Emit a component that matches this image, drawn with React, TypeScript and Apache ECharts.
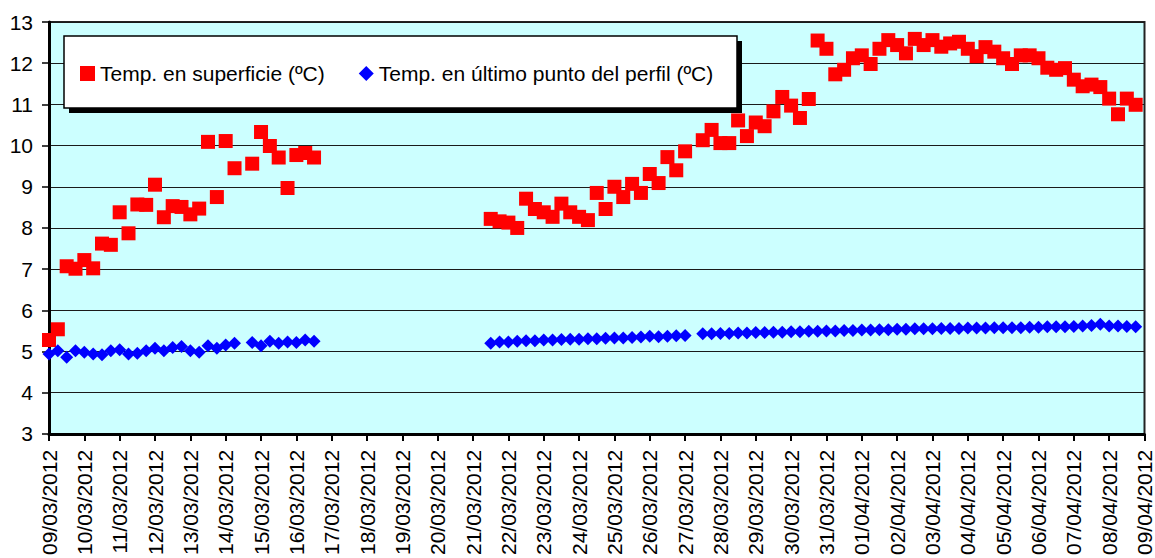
import React, { useEffect, useRef } from 'react';
import * as echarts from 'echarts';

// One tick label per day on the x axis
const dateLabels = [
  '09/03/2012', '10/03/2012', '11/03/2012', '12/03/2012', '13/03/2012', '14/03/2012',
  '15/03/2012', '16/03/2012', '17/03/2012', '18/03/2012', '19/03/2012', '20/03/2012',
  '21/03/2012', '22/03/2012', '23/03/2012', '24/03/2012', '25/03/2012', '26/03/2012',
  '27/03/2012', '28/03/2012', '29/03/2012', '30/03/2012', '31/03/2012', '01/04/2012',
  '02/04/2012', '03/04/2012', '04/04/2012', '05/04/2012', '06/04/2012', '07/04/2012',
  '08/04/2012', '09/04/2012',
];

// readings every 6 hours (4 per day), starting 09/03/2012 00:00
const READINGS_PER_DAY = 4;

const seriesNames = ['Temp. en superficie (ºC)', 'Temp. en último punto del perfil (ºC)'];

// Surface temperature (ºC); null = no reading
const surfaceTemp: (number | null)[] = [
  5.28, 5.54, 7.07, 7.01, 7.22, 7.02, 7.62, 7.59, 8.38, 7.87,
  8.57, 8.56, 9.05, 8.26, 8.53, 8.51, 8.33, 8.47, 10.09, 8.75,
  10.11, 9.45, null, 9.56, 10.33, 9.99, 9.71, 8.97, 9.77, 9.82,
  9.71, null, null, null, null, null, null, null, null, null,
  null, null, null, null, null, null, null, null, null, null,
  8.22, 8.16, 8.13, 8.0, 8.71, 8.46, 8.38, 8.27, 8.59, 8.38,
  8.27, 8.19, 8.85, 8.46, 9.0, 8.75, 9.07, 8.85, 9.31, 9.09,
  9.72, 9.4, 9.86, null, 10.13, 10.38, 10.06, 10.06, 10.61, 10.23,
  10.56, 10.47, 10.83, 11.18, 10.97, 10.67, 11.13, 12.55, 12.35, 11.73,
  11.84, 12.12, 12.19, 11.98, 12.35, 12.56, 12.44, 12.24, 12.59, 12.44,
  12.56, 12.4, 12.48, 12.52, 12.35, 12.17, 12.39, 12.28, 12.12, 11.98,
  12.19, 12.19, 12.12, 11.89, 11.84, 11.88, 11.6, 11.44, 11.48, 11.42,
  11.14, 10.76, 11.14, 10.99,
];

// Temperature at the last point of the profile (ºC); null = no reading
const bottomTemp: (number | null)[] = [
  4.94, 5.02, 4.86, 5.02, 4.98, 4.94, 4.92, 5.02, 5.04, 4.94,
  4.96, 5.02, 5.08, 5.02, 5.1, 5.12, 5.02, 4.98, 5.14, 5.08,
  5.16, 5.2, null, 5.22, 5.14, 5.25, 5.2, 5.23, 5.22, 5.28,
  5.25, null, null, null, null, null, null, null, null, null,
  null, null, null, null, null, null, null, null, null, null,
  5.2, 5.23, 5.23, 5.25, 5.26, 5.26, 5.28, 5.28, 5.29, 5.3,
  5.3, 5.31, 5.31, 5.32, 5.33, 5.33, 5.34, 5.35, 5.37, 5.36,
  5.37, 5.38, 5.39, null, 5.43, 5.43, 5.44, 5.44, 5.45, 5.45,
  5.46, 5.46, 5.47, 5.47, 5.48, 5.48, 5.49, 5.49, 5.5, 5.5,
  5.51, 5.51, 5.52, 5.52, 5.53, 5.53, 5.54, 5.54, 5.55, 5.55,
  5.55, 5.56, 5.56, 5.56, 5.57, 5.57, 5.57, 5.58, 5.58, 5.58,
  5.58, 5.59, 5.59, 5.6, 5.6, 5.6, 5.61, 5.62, 5.63, 5.66,
  5.62, 5.62, 5.61, 5.6,
];

const FONT = '"Liberation Sans", Arial, sans-serif';

function toPoints(values: (number | null)[]) {
  const pts: [number, number][] = [];
  values.forEach((v, i) => {
    if (v !== null) pts.push([i / READINGS_PER_DAY, v]);
  });
  return pts;
}

export default function App() {
  const ref = useRef<HTMLDivElement>(null);

  useEffect(() => {
    if (!ref.current) return;
    const chart = echarts.init(ref.current, null, { renderer: 'svg' });
    chart.setOption({
      animation: false,
      backgroundColor: '#ffffff',
      grid: {
        left: 49,
        right: 9,
        top: 22,
        bottom: 123,
        show: true,
        backgroundColor: '#CCFFFF',
        borderColor: '#222222',
        borderWidth: 2,
      },
      xAxis: {
        type: 'value',
        min: 0,
        max: dateLabels.length - 1,
        interval: 1,
        axisLine: { show: true, onZero: false, lineStyle: { color: '#000', width: 3 } },
        axisTick: { show: true, length: 7, lineStyle: { color: '#000', width: 2 } },
        splitLine: { show: false },
        axisLabel: {
          rotate: 90,
          margin: 16,
          fontSize: 21,
          fontFamily: FONT,
          color: '#000',
          showMinLabel: true,
          showMaxLabel: true,
          formatter: (v: number) => dateLabels[Math.round(v)] ?? '',
        },
      },
      yAxis: {
        type: 'value',
        min: 3,
        max: 13,
        interval: 1,
        axisLine: { show: true, lineStyle: { color: '#000', width: 3 } },
        axisTick: { show: true, length: 7, lineStyle: { color: '#000', width: 1.5 } },
        splitLine: { show: true, lineStyle: { color: '#1a1a1a', width: 1 } },
        axisLabel: {
          margin: 16,
          fontSize: 21,
          fontFamily: FONT,
          color: '#000',
        },
      },
      legend: {
        left: 80,
        top: 63,
        padding: 0,
        itemWidth: 15,
        itemHeight: 15,
        itemGap: 34,
        z: 60,
        textStyle: { fontSize: 21, fontFamily: FONT, color: '#000' },
        data: [
          { name: seriesNames[0], icon: 'rect', itemStyle: { opacity: 1 } },
          { name: seriesNames[1], icon: 'diamond', itemStyle: { opacity: 1 } },
        ],
      },
      graphic: [
        {
          type: 'rect',
          z: 50,
          shape: { x: 69, y: 41, width: 673, height: 72 },
          style: { fill: '#000' },
        },
        {
          type: 'rect',
          z: 51,
          shape: { x: 64, y: 36, width: 673, height: 72 },
          style: { fill: '#fff', stroke: '#000', lineWidth: 1.5 },
        },
      ],
      series: [
        {
          name: seriesNames[0],
          type: 'scatter',
          symbol: 'rect',
          symbolSize: 14,
          itemStyle: { color: '#FF0000', opacity: 1 },
          data: toPoints(surfaceTemp),
        },
        {
          name: seriesNames[1],
          type: 'scatter',
          symbol: 'diamond',
          symbolSize: 13,
          itemStyle: { color: '#0000FF', opacity: 1 },
          data: toPoints(bottomTemp),
        },
      ],
    });
    return () => chart.dispose();
  }, []);

  return (
    <div
      ref={ref}
      style={{ position: 'fixed', left: 0, top: 0, width: 1155, height: 558, background: '#fff' }}
    />
  );
}
